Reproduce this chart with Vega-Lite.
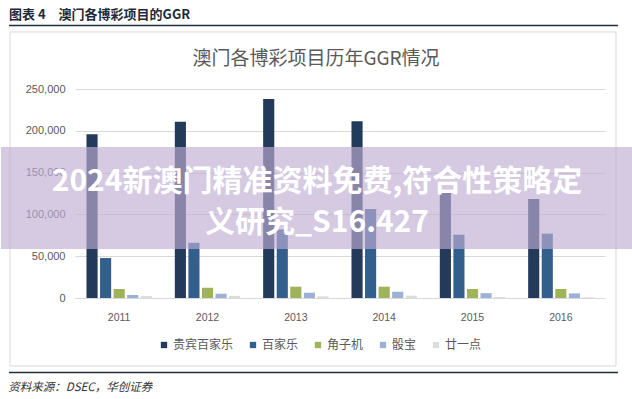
{
  "$schema": "https://vega.github.io/schema/vega-lite/v6.json",
  "padding": {"left": 0, "top": 8, "right": 0, "bottom": 0},
  "background": "#ffffff",
  "config": {
    "font": "Noto Sans CJK SC",
    "view": {"stroke": null},
    "concat": {"spacing": 4}
  },
  "title": {
    "text": "图表 4\u2003澳门各博彩项目的GGR",
    "anchor": "start",
    "frame": "bounds",
    "dx": 8,
    "fontSize": 13,
    "fontWeight": "bold",
    "color": "#1c2b3a",
    "offset": 3
  },
  "resolve": {"scale": {"color": "independent"}, "legend": {"color": "independent"}},
  "vconcat": [
    {
      "width": 530,
      "height": 1,
      "data": {"values": [{"line": "header"}]},
      "mark": {"type": "rule", "color": "#1f2d3d", "strokeWidth": 1.5},
      "encoding": {
        "x": {"datum": 0.0127, "type": "quantitative", "scale": {"domain": [0.1171, 0.9557], "nice": false, "zero": false}, "axis": null},
        "x2": {"datum": 0.9763},
        "y": {"datum": 0.5, "type": "quantitative", "scale": {"domain": [0, 1], "nice": false}, "axis": null}
      }
    },
    {
      "width": 530,
      "height": 209,
      "title": {
        "text": "澳门各博彩项目历年GGR情况",
        "fontSize": 19,
        "fontWeight": "normal",
        "color": "#595959",
        "offset": -38,
        "dx": -24,
        "anchor": "middle"
      },
      "resolve": {"scale": {"x": "independent"}, "axis": {"x": "independent"}},
      "layer": [
        {
          "data": {"values": [{"frame": "box"}]},
          "mark": {"type": "rect", "fill": null, "stroke": "#d9d9d9", "strokeWidth": 1},
          "encoding": {
            "x": {"datum": 0.0142, "type": "quantitative", "scale": {"domain": [0.1171, 0.9557], "zero": false, "nice": false}, "axis": null},
            "x2": {"datum": 0.9731},
            "y": {"datum": 318182, "type": "quantitative", "scale": {"domain": [0, 250000]}},
            "y2": {"datum": -81340}
          }
        },
        {
          "data": {
            "values": [
              {"year": "2011", "type": "贵宾百家乐", "value": 196000},
              {"year": "2011", "type": "百家乐", "value": 47800},
              {"year": "2011", "type": "角子机", "value": 10800},
              {"year": "2011", "type": "骰宝", "value": 3600},
              {"year": "2011", "type": "廿一点", "value": 2300},
              {"year": "2012", "type": "贵宾百家乐", "value": 210900},
              {"year": "2012", "type": "百家乐", "value": 66000},
              {"year": "2012", "type": "角子机", "value": 12300},
              {"year": "2012", "type": "骰宝", "value": 5100},
              {"year": "2012", "type": "廿一点", "value": 2500},
              {"year": "2013", "type": "贵宾百家乐", "value": 238000},
              {"year": "2013", "type": "百家乐", "value": 82000},
              {"year": "2013", "type": "角子机", "value": 13500},
              {"year": "2013", "type": "骰宝", "value": 6300},
              {"year": "2013", "type": "廿一点", "value": 2000},
              {"year": "2014", "type": "贵宾百家乐", "value": 211400},
              {"year": "2014", "type": "百家乐", "value": 106500},
              {"year": "2014", "type": "角子机", "value": 13500},
              {"year": "2014", "type": "骰宝", "value": 7500},
              {"year": "2014", "type": "廿一点", "value": 2800},
              {"year": "2015", "type": "贵宾百家乐", "value": 126400},
              {"year": "2015", "type": "百家乐", "value": 75700},
              {"year": "2015", "type": "角子机", "value": 10800},
              {"year": "2015", "type": "骰宝", "value": 5800},
              {"year": "2015", "type": "廿一点", "value": 1200},
              {"year": "2016", "type": "贵宾百家乐", "value": 118400},
              {"year": "2016", "type": "百家乐", "value": 77000},
              {"year": "2016", "type": "角子机", "value": 10800},
              {"year": "2016", "type": "骰宝", "value": 5500},
              {"year": "2016", "type": "廿一点", "value": 1000}
            ]
          },
          "mark": {"type": "bar"},
          "encoding": {
            "x": {
              "field": "year",
              "type": "nominal",
              "scale": {"paddingInner": 0.26, "paddingOuter": 0.13},
              "axis": {
                "title": null,
                "labelAngle": 0,
                "ticks": false,
                "domainColor": "#d9d9d9",
                "labelPadding": 14,
                "labelFontSize": 10.5,
                "labelColor": "#595959",
                "labelFont": "Liberation Sans"
              }
            },
            "xOffset": {
              "field": "type",
              "sort": ["贵宾百家乐", "百家乐", "角子机", "骰宝", "廿一点"],
              "scale": {"paddingInner": 0.18, "paddingOuter": 0}
            },
            "y": {
              "field": "value",
              "type": "quantitative",
              "scale": {"domain": [0, 250000]},
              "axis": {
                "title": null,
                "values": [0, 50000, 100000, 150000, 200000, 250000],
                "format": ",.0f",
                "grid": true,
                "gridColor": "#d9d9d9",
                "domain": false,
                "ticks": false,
                "labelPadding": 10,
                "labelFontSize": 11,
                "labelColor": "#595959",
                "labelFont": "Liberation Sans",
                "minExtent": 66,
                "maxExtent": 66
              }
            },
            "color": {
              "field": "type",
              "sort": ["贵宾百家乐", "百家乐", "角子机", "骰宝", "廿一点"],
              "scale": {
                "domain": ["贵宾百家乐", "百家乐", "角子机", "骰宝", "廿一点"],
                "range": ["#243a5a", "#325f8c", "#9fb45a", "#9db1d6", "#dcdcdc"]
              },
              "legend": {
                "orient": "none",
                "legendX": 83,
                "legendY": 250,
                "direction": "horizontal",
                "title": null,
                "symbolType": "square",
                "symbolSize": 40,
                "symbolStrokeWidth": 0,
                "labelFontSize": 12,
                "labelColor": "#595959",
                "columnPadding": 13,
                "labelOffset": 3
              }
            }
          }
        },
        {
          "data": {"values": [{"banner": "2024新澳门精准资料免费,符合性策略定\n义研究_S16.427"}]},
          "mark": {"type": "rect", "fill": "#bfaed3", "opacity": 0.65},
          "encoding": {
            "x": {"datum": 0, "type": "quantitative", "scale": {"domain": [0.1171, 0.9557], "zero": false, "nice": false}, "axis": null},
            "x2": {"datum": 1},
            "y": {"datum": 180600, "type": "quantitative", "scale": {"domain": [0, 250000]}},
            "y2": {"datum": 58600}
          }
        },
        {
          "data": {"values": [{"banner": "2024新澳门精准资料免费,符合性策略定\n义研究_S16.427"}]},
          "mark": {
            "type": "text",
            "color": "#ffffff",
            "fontSize": 30,
            "fontWeight": "bold",
            "lineBreak": "\n",
            "lineHeight": 41,
            "baseline": "middle",
            "align": "center"
          },
          "encoding": {
            "x": {"datum": 0.5, "type": "quantitative", "scale": {"domain": [0.1171, 0.9557], "zero": false, "nice": false}, "axis": null},
            "y": {"datum": 138756, "type": "quantitative", "scale": {"domain": [0, 250000]}},
            "text": {"field": "banner"}
          }
        }
      ]
    },
    {
      "width": 530,
      "height": 1,
      "data": {"values": [{"line": "footer"}]},
      "mark": {"type": "rule", "color": "#1f2d3d", "strokeWidth": 1.5},
      "encoding": {
        "x": {"datum": 0.0127, "type": "quantitative", "scale": {"domain": [0.1171, 0.9557], "nice": false, "zero": false}, "axis": null},
        "x2": {"datum": 0.9763},
        "y": {"datum": 0.5, "type": "quantitative", "scale": {"domain": [0, 1], "nice": false}, "axis": null}
      },
      "title": {
        "text": "资料来源：DSEC，华创证券",
        "orient": "bottom",
        "anchor": "start",
        "frame": "bounds",
        "fontSize": 11.5,
        "fontStyle": "italic",
        "fontWeight": "normal",
        "color": "#333333",
        "offset": 9
      }
    }
  ]
}
